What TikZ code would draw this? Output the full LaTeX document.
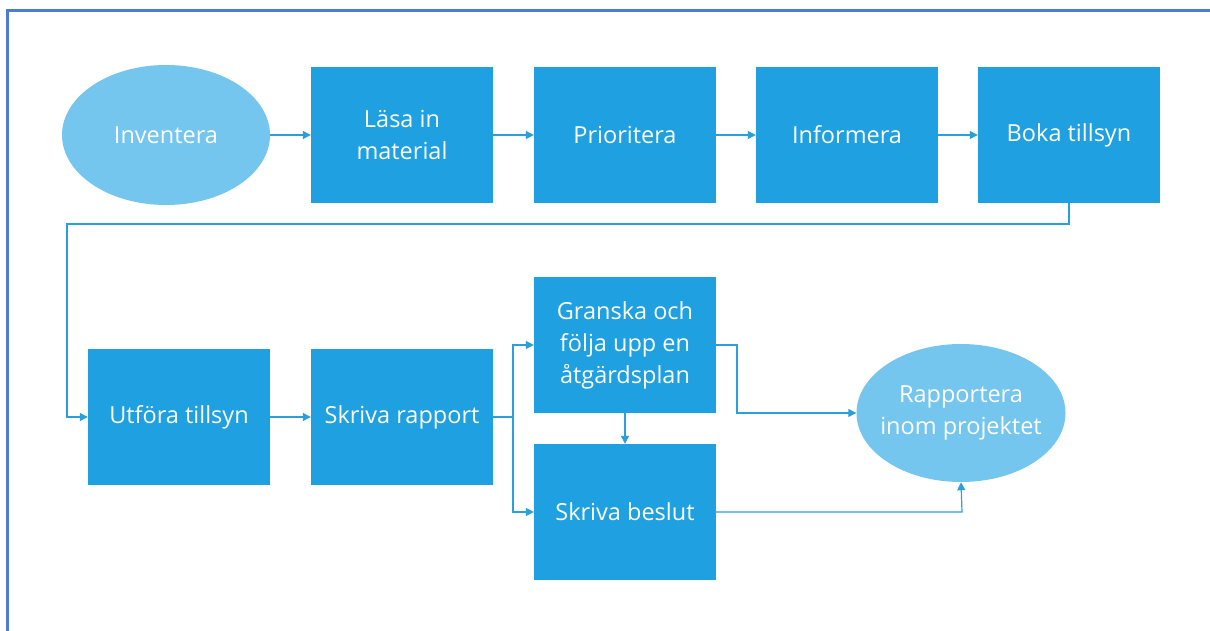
\documentclass[tikz,border=0pt]{standalone}
\usepackage{fontspec}
\setmainfont{Open Sans}
\usetikzlibrary{shapes.geometric,arrows.meta}
\definecolor{boxblue}{HTML}{1FA0E0}
\definecolor{ellblue}{HTML}{75C6EE}
\definecolor{linkblue}{HTML}{2A9FDB}
\definecolor{frameblue}{HTML}{4A7CD0}
\tikzset{
  stepbox/.style={rectangle, fill=boxblue, minimum width=182pt, minimum height=136pt, text=white, align=center, inner sep=2pt, font=\fontsize{23.5}{32}\selectfont},
  endell/.style={ellipse, fill=ellblue, minimum width=208pt, minimum height=140pt, text=white, align=center, inner sep=0pt, font=\fontsize{23.5}{32}\selectfont},
  link/.style={draw=linkblue, line width=1.2pt, -{Triangle[length=8pt,width=8pt]}},
  plain/.style={draw=linkblue, line width=1.2pt}
}
\begin{document}
\begin{tikzpicture}[x=1pt,y=-1pt]
\useasboundingbox (0,0) rectangle (1210,631);
\draw[frameblue, line width=3pt] (7,631) -- (7,11) -- (1210,11);
\node[endell] (inv) at (166,135) {Inventera};
\node[stepbox] (las) at (402,135) {Läsa in\\material};
\node[stepbox] (pri) at (625,135) {Prioritera};
\node[stepbox] (inf) at (847,135) {Informera};
\node[stepbox] (bok) at (1069,135) {Boka tillsyn};
\node[stepbox] (utf) at (179,417) {Utföra tillsyn};
\node[stepbox] (skr) at (402,417) {Skriva rapport};
\node[stepbox] (gra) at (625,345) {Granska och\\följa upp en\\åtgärdsplan};
\node[stepbox] (bes) at (625,512) {Skriva beslut};
\node[endell, minimum width=209pt, minimum height=138pt, inner xsep=-12pt] (rap) at (961,413) {Rapportera\\inom projektet};
\coordinate (c1) at (1069,224);
\coordinate (c2) at (67,224);
\coordinate (c3) at (513,417);
\coordinate (c4) at (737,345);
\coordinate (c5) at (962,512);
\draw[link] (inv) -- (las);
\draw[link] (las) -- (pri);
\draw[link] (pri) -- (inf);
\draw[link] (inf) -- (bok);
\draw[link] (bok.south) -- (c1) -- (c2) |- (utf.west);
\draw[link] (utf) -- (skr);
\draw[plain] (skr.east) -- (c3);
\draw[link] (c3) |- (gra.west);
\draw[link] (c3) |- (bes.west);
\draw[link] (gra) -- (bes);
\draw[link] (gra.east) -- (c4) |- (rap.west);
\draw[link] (bes.east) -- (c5) -- (rap.south);
\end{tikzpicture}
\end{document}
